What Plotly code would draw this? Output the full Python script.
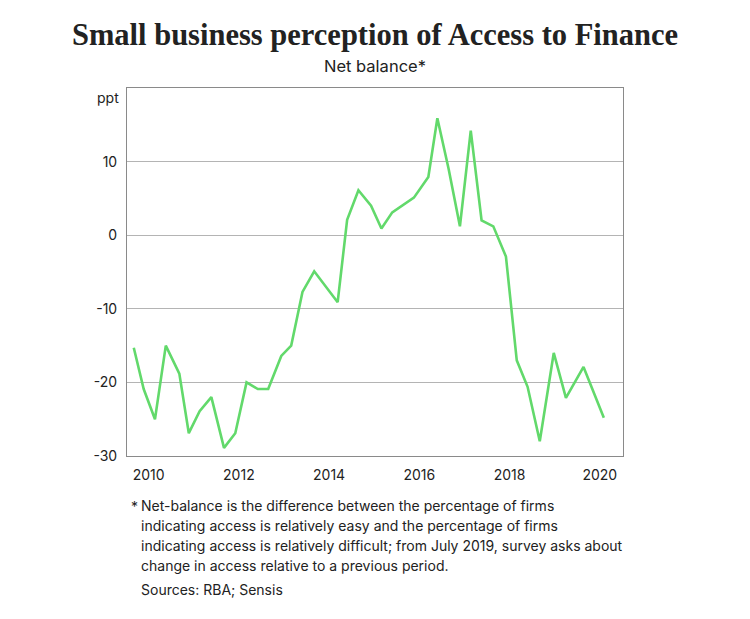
import plotly.graph_objects as go

# net balance readings (decimal year, ppt)
years = [2009.67, 2009.89, 2010.14, 2010.38, 2010.68, 2010.89, 2011.13, 2011.39,
         2011.67, 2011.92, 2012.17, 2012.42, 2012.65, 2012.94, 2013.16, 2013.41,
         2013.67, 2014.19, 2014.40, 2014.65, 2014.93, 2015.16, 2015.40, 2015.88,
         2016.20, 2016.40, 2016.65, 2016.90, 2017.14, 2017.38, 2017.64, 2017.92,
         2018.16, 2018.40, 2018.67, 2018.98, 2019.25, 2019.64, 2020.09]
net_balance = [-15.3, -20.9, -25.0, -15.0, -18.8, -26.9, -23.9, -22.0,
               -28.9, -26.9, -20.0, -20.9, -20.9, -16.4, -15.0, -7.7,
               -4.9, -9.1, 2.1, 6.1, 4.0, 0.9, 3.1, 5.1,
               7.9, 15.9, 9.0, 1.2, 14.2, 2.0, 1.2, -2.9,
               -17.0, -20.6, -28.0, -16.0, -22.1, -17.9, -24.8]

x_ticks = [2010, 2012, 2014, 2016, 2018, 2020]
y_ticks = [-30, -20, -10, 0, 10]

notes = ["Net-balance is the difference between the percentage of firms",
         "indicating access is relatively easy and the percentage of firms",
         "indicating access is relatively difficult; from July 2019, survey asks about",
         "change in access relative to a previous period."]

sans = "Inter"
ink = "#222"
grey = "#b4b4b4"

fig = go.Figure()
fig.add_trace(go.Scatter(x=years, y=net_balance, mode="lines",
                         line=dict(color="#62d96b", width=2.6),
                         hoverinfo="skip"))

# the page adds an 8px body margin, so margins are trimmed by that
fig.update_layout(
    width=750, height=619,
    margin=dict(l=119, r=135, t=80, b=171),
    paper_bgcolor="white", plot_bgcolor="white",
    showlegend=False,
)

fig.update_xaxes(range=[2009.52, 2020.515], tickvals=x_ticks,
                 ticktext=[str(t) for t in x_ticks],
                 showgrid=False, zeroline=False,
                 showline=True, linecolor="#8a8a8a", linewidth=1, mirror=True,
                 ticks="", ticklabelstandoff=6,
                 tickfont=dict(family=sans, size=14, color=ink))
fig.update_yaxes(range=[-30, 20], tickvals=y_ticks,
                 ticktext=[str(t) for t in y_ticks],
                 showgrid=True, gridcolor=grey, gridwidth=1.4, zeroline=False,
                 showline=True, linecolor="#8a8a8a", linewidth=1, mirror=True,
                 ticks="", ticklabelstandoff=6,
                 tickfont=dict(family=sans, size=14, color=ink))

# title and subtitle, positioned from the top of the plot area
fig.add_annotation(text="<b>Small business perception of Access to Finance</b>",
                   xref="paper", yref="paper", x=0.5, y=1, yanchor="middle",
                   yshift=53, showarrow=False,
                   font=dict(family="Liberation Serif", size=30.5, color=ink))
fig.add_annotation(text="Net balance*", xref="paper", yref="paper", x=0.5, y=1,
                   yanchor="middle", yshift=22, showarrow=False,
                   font=dict(family=sans, size=16.5, color=ink))

fig.add_annotation(text="ppt", xref="paper", yref="paper", x=0, y=1,
                   xanchor="right", yanchor="middle", xshift=-6, yshift=-9,
                   showarrow=False, font=dict(family=sans, size=14, color=ink))

# footnote, one line per annotation for even spacing
fig.add_annotation(text="*", xref="paper", yref="paper", x=0, y=0,
                   xanchor="left", yanchor="middle", xshift=2, yshift=-50,
                   showarrow=False, font=dict(family=sans, size=14, color=ink))
for i, line in enumerate(notes):
    fig.add_annotation(text=line, xref="paper", yref="paper", x=0, y=0,
                       xanchor="left", yanchor="middle", xshift=12,
                       yshift=-49 - 20 * i, showarrow=False,
                       font=dict(family=sans, size=14, color=ink))
fig.add_annotation(text="Sources: RBA; Sensis", xref="paper", yref="paper",
                   x=0, y=0, xanchor="left", yanchor="middle", xshift=12,
                   yshift=-133, showarrow=False,
                   font=dict(family=sans, size=14, color=ink))

fig.write_html("out.html")
